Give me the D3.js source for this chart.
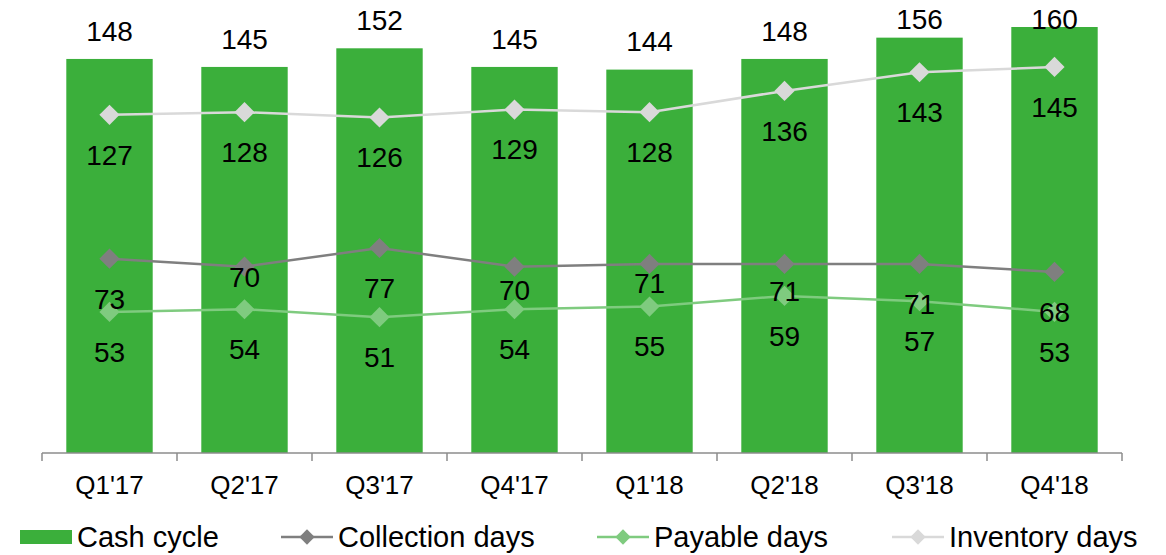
<!DOCTYPE html>
<html>
<head>
<meta charset="utf-8">
<script src="https://cdn.jsdelivr.net/npm/d3@7/dist/d3.min.js"></script>
<style>
  html, body { margin: 0; padding: 0; background: #fff; }
  svg { display: block; font-family: "Liberation Sans", Arial, sans-serif; }
</style>
</head>
<body>
<svg id="chart" width="1166" height="555"></svg>
<script>
const categories = ["Q1'17", "Q2'17", "Q3'17", "Q4'17", "Q1'18", "Q2'18", "Q3'18", "Q4'18"];
const cashCycle = [148, 145, 152, 145, 144, 148, 156, 160];
const collectionDays = [73, 70, 77, 70, 71, 71, 71, 68];
const payableDays = [53, 54, 51, 54, 55, 59, 57, 53];
const inventoryDays = [127, 128, 126, 129, 128, 136, 143, 145];

// label placement (layout only): pixel offset of each collection label below its marker
const collectionLabelOffsets = [41, 11, 40, 24, 19, 27, 40, 40];

const colors = {
  bar: "#3BAF3B",
  collection: "#7F7F7F",
  payable: "#7FCB7F",
  inventory: "#D9D9D9"
};

const svg = d3.select("#chart");
const left = 42, right = 1122, baseline = 453;

const x = d3.scaleBand().domain(categories).range([left, right]).paddingInner(0.36).paddingOuter(0.18);
const y = d3.scaleLinear().domain([0, 170]).range([baseline, baseline - 170 * 2.6625]);

// Bars
svg.append("g").selectAll("rect").data(cashCycle).join("rect")
  .attr("x", (d, i) => x(categories[i]))
  .attr("y", d => y(d))
  .attr("width", x.bandwidth())
  .attr("height", d => baseline - y(d))
  .attr("fill", colors.bar);

// Bar labels
svg.append("g").selectAll("text").data(cashCycle).join("text")
  .attr("x", (d, i) => x(categories[i]) + x.bandwidth() / 2)
  .attr("y", d => Math.max(y(d) - 28, 19))
  .attr("dy", "0.35em")
  .attr("text-anchor", "middle")
  .attr("font-size", 28)
  .attr("fill", "#000")
  .text(d => d);

// Axis
const gAxis = svg.append("g").attr("transform", `translate(0,${baseline})`);
gAxis.append("line").attr("x1", left).attr("x2", right).attr("y1", 0).attr("y2", 0)
  .attr("stroke", "#8C8C8C").attr("stroke-width", 1.5);
const boundaries = categories.map(c => x(c) - x.step() * x.paddingInner() / 2).concat([right]);
boundaries[0] = left;
gAxis.selectAll("line.tick").data(boundaries).join("line")
  .attr("class", "tick")
  .attr("x1", d => d).attr("x2", d => d).attr("y1", 0).attr("y2", 8)
  .attr("stroke", "#8C8C8C").attr("stroke-width", 1.5);
gAxis.selectAll("text.lbl").data(categories).join("text")
  .attr("class", "lbl")
  .attr("x", d => x(d) + x.bandwidth() / 2)
  .attr("y", 32)
  .attr("dy", "0.35em")
  .attr("text-anchor", "middle")
  .attr("font-size", 26)
  .attr("fill", "#000")
  .text(d => d);

// Lines
const cx = i => x(categories[i]) + x.bandwidth() / 2;
const line = d3.line().x((d, i) => cx(i)).y(d => y(d));
const diamond = d3.symbol().type(d3.symbolDiamond2);

function drawSeries(values, color) {
  const g = svg.append("g");
  g.append("path").datum(values).attr("d", line)
    .attr("fill", "none").attr("stroke", color).attr("stroke-width", 2.5);
  g.selectAll("path.m").data(values).join("path")
    .attr("class", "m")
    .attr("transform", (d, i) => `translate(${cx(i)},${y(d)})`)
    .attr("d", diamond.size(260)())
    .attr("fill", color);
  return g;
}
drawSeries(inventoryDays, colors.inventory);
drawSeries(collectionDays, colors.collection);
drawSeries(payableDays, colors.payable);

function drawLabels(values, offsets) {
  svg.append("g").selectAll("text").data(values).join("text")
    .attr("x", (d, i) => cx(i))
    .attr("y", (d, i) => y(d) + (offsets ? offsets[i] : 40))
    .attr("dy", "0.35em")
    .attr("text-anchor", "middle")
    .attr("font-size", 28)
    .attr("fill", "#000")
    .text(d => d);
}
drawLabels(inventoryDays);
drawLabels(collectionDays, collectionLabelOffsets);
drawLabels(payableDays);

// Legend
const legendY = 537;
const lg = svg.append("g");
lg.append("rect").attr("x", 20).attr("y", legendY - 7).attr("width", 52).attr("height", 14).attr("fill", colors.bar);
lg.append("text").attr("x", 77).attr("y", legendY).attr("dy", "0.35em").attr("font-size", 29).text("Cash cycle");

const lineItems = [
  { name: "Collection days", color: colors.collection, x0: 281 },
  { name: "Payable days", color: colors.payable, x0: 597 },
  { name: "Inventory days", color: colors.inventory, x0: 892 }
];
lineItems.forEach(it => {
  lg.append("line").attr("x1", it.x0).attr("x2", it.x0 + 52).attr("y1", legendY).attr("y2", legendY)
    .attr("stroke", it.color).attr("stroke-width", 2.5);
  lg.append("path").attr("transform", `translate(${it.x0 + 26},${legendY})`)
    .attr("d", diamond.size(150)()).attr("fill", it.color);
  lg.append("text").attr("x", it.x0 + 57).attr("y", legendY).attr("dy", "0.35em").attr("font-size", 29).text(it.name);
});
</script>
</body>
</html>
